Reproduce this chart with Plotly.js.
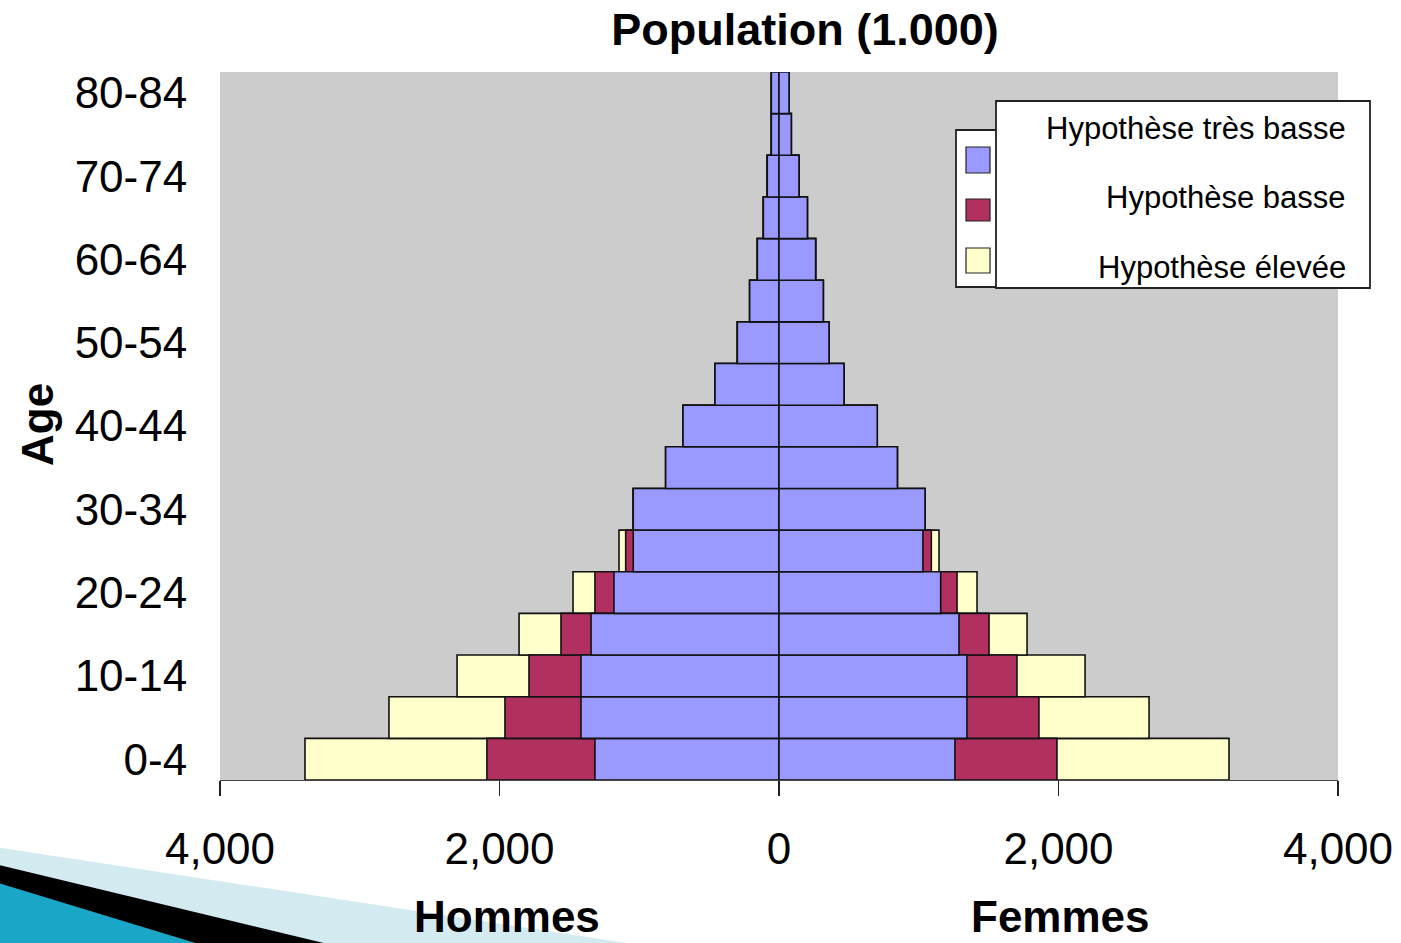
<!DOCTYPE html>
<html>
<head>
<meta charset="utf-8">
<script src="https://cdn.plot.ly/plotly-3.0.1.min.js"></script>
<style>html,body{margin:0;padding:0;background:#fff;}#chart{width:1401px;height:943px;}</style>
</head>
<body>
<div id="chart"></div>
<script>
// ---- Data (population in thousands) ----
const ageGroups = ["0-4","5-9","10-14","15-19","20-24","25-29","30-34","35-39","40-44","45-49","50-54","55-59","60-64","65-69","70-74","75-79","80-84"];
const ageTickLabels = ["0-4","10-14","20-24","30-34","40-44","50-54","60-64","70-74","80-84"];
const seriesNames = ["Hypothèse très basse","Hypothèse basse","Hypothèse élevée"];

const menTresBasse   = [1317,1417,1417,1345,1181,1043,1043,811,687,458,298,210,155,112,84,55,55];
const menBasse       = [2090,1961,1789,1560,1317,1097,1043,811,687,458,298,210,155,112,84,55,55];
const menElevee      = [3392,2791,2304,1860,1474,1145,1043,811,687,458,298,210,155,112,84,55,55];

const womenTresBasse = [1259,1345,1345,1288,1157,1030,1045,847,703,465,358,317,262,203,143,88,72];
const womenBasse     = [1989,1860,1703,1503,1274,1090,1045,847,703,465,358,317,262,203,143,88,72];
const womenElevee    = [3220,2648,2190,1775,1417,1145,1045,847,703,465,358,317,262,203,143,88,72];

const xTickVals = [-4000,-2000,0,2000,4000];
const xTickText = ["4,000","2,000","0","2,000","4,000"];

// ---- Styling ----
const colors = ["#9999FF","#B03060","#FFFFCC"];
const FONT = "Liberation Sans, Arial, sans-serif";

const neg = a => a.map(v => -v);
function barTrace(x, name, color){
  return {type:"bar", orientation:"h", y:ageGroups, x:x, name:name,
    marker:{color:color, line:{color:"#111", width:1.6}}, width:1,
    showlegend:false, hoverinfo:"x+y+name"};
}
const traces = [
  barTrace(neg(menElevee), seriesNames[2], colors[2]),
  barTrace(womenElevee, seriesNames[2], colors[2]),
  barTrace(neg(menBasse), seriesNames[1], colors[1]),
  barTrace(womenBasse, seriesNames[1], colors[1]),
  barTrace(neg(menTresBasse), seriesNames[0], colors[0]),
  barTrace(womenTresBasse, seriesNames[0], colors[0])
];

// pixel -> paper helpers for decorations
const L=220, R=1338, T=72, B=780;
const px = x => (x-L)/(R-L);
const py = y => (B-y)/(B-T);

const shapes = [];
// decorative swoosh (bottom-left)
function poly(pts, fill){
  let d = pts.map((p,i)=>(i?"L":"M")+px(p[0]).toFixed(5)+","+py(p[1]).toFixed(5)).join(" ")+" Z";
  shapes.push({type:"path", xref:"paper", yref:"paper", path:d, fillcolor:fill, line:{width:0}, layer:"below"});
}
poly([[-5,847],[640,945],[-5,945]], "#d3eaf1");
poly([[-5,864],[332,945],[-5,945]], "#000000");
poly([[-5,882],[202,945],[-5,945]], "#1aa6c6");

// custom legend
function rect(x0,y0,x1,y1,fill,lw,lc){
  shapes.push({type:"rect", xref:"paper", yref:"paper", x0:px(x0), x1:px(x1), y0:py(y1), y1:py(y0),
    fillcolor:fill, line:{color:lc||"#222", width:lw}, layer:"above"});
}
rect(956,130,1010,287,"#ffffff",1.8);
rect(996,101,1370,288,"#ffffff",1.8);
rect(966,147,990,173,colors[0],1.2);
rect(966,199,990,221,colors[1],1.2);
rect(966,248,990,273,colors[2],1.2);

const annotations = [];
const legendY = [128,197,267];
seriesNames.forEach((n,i)=>{
  annotations.push({xref:"paper", yref:"paper", x:px(1348), y:py(legendY[i]), xanchor:"right", yanchor:"middle",
    text:n, showarrow:false, font:{family:FONT, size:31, color:"#000"}});
});
annotations.push({xref:"paper", yref:"paper", x:px(37), y:py(425), xanchor:"center", yanchor:"middle",
  text:"<b>Age</b>", textangle:-90, showarrow:false, font:{family:FONT, size:44, color:"#000"}});
annotations.push({xref:"paper", yref:"paper", x:px(507), y:py(916), xanchor:"center", yanchor:"middle",
  text:"<b>Hommes</b>", showarrow:false, font:{family:FONT, size:44, color:"#000"}});
annotations.push({xref:"paper", yref:"paper", x:px(1060), y:py(916), xanchor:"center", yanchor:"middle",
  text:"<b>Femmes</b>", showarrow:false, font:{family:FONT, size:44, color:"#000"}});

const layout = {
  width:1401, height:943,
  margin:{l:L, r:1401-R, t:T, b:943-B, pad:0},
  paper_bgcolor:"#ffffff", plot_bgcolor:"#cccccc",
  barmode:"overlay", bargap:0,
  title:{text:"<b>Population (1.000)</b>", x:805/1401, xanchor:"center", xref:"container",
    y:1-29/943, yanchor:"middle", yref:"container", font:{family:FONT, size:45, color:"#000"}},
  xaxis:{range:[-4000,4000], tickvals:xTickVals, ticktext:xTickText, ticks:"outside", ticklen:15,
    tickwidth:1.5, tickcolor:"#222", showgrid:false, zeroline:true, zerolinecolor:"#000", zerolinewidth:2,
    showline:true, linecolor:"#444", linewidth:1, ticklabelstandoff:15,
    tickfont:{family:FONT, size:44, color:"#000"}, fixedrange:true},
  yaxis:{type:"category", categoryorder:"array", categoryarray:ageGroups, tickvals:ageTickLabels,
    ticktext:ageTickLabels, ticks:"outside", ticklen:23, tickcolor:"rgba(0,0,0,0)", showgrid:false,
    zeroline:false, showline:false, range:[-0.5, ageGroups.length-0.5],
    tickfont:{family:FONT, size:44, color:"#000"}, fixedrange:true},
  shapes:shapes, annotations:annotations,
  font:{family:FONT}
};
Plotly.newPlot("chart", traces, layout, {displayModeBar:false, staticPlot:true});
</script>
</body>
</html>
